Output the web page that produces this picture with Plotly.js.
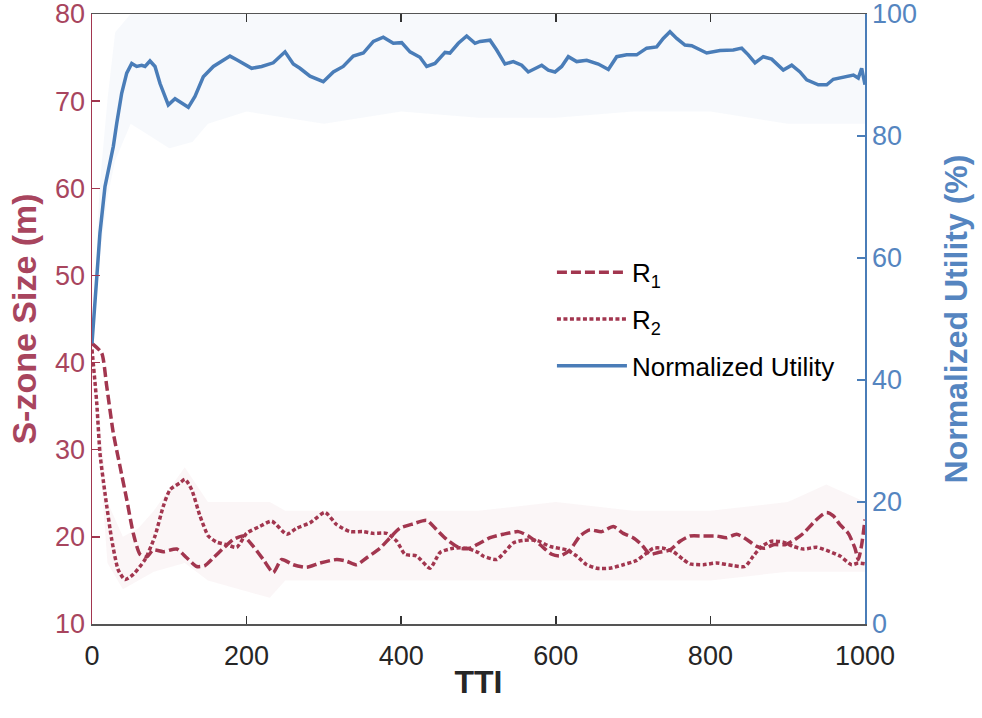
<!DOCTYPE html>
<html>
<head>
<meta charset="utf-8">
<script src="https://cdn.plot.ly/plotly-3.0.1.min.js"></script>
<style>html,body{margin:0;padding:0;background:#fff}#chart{width:982px;height:718px}</style>
</head>
<body>
<div id="chart"></div>
<script>
// ---- Data ----
const r1TTI = [0,12.5,19,27.6,36.2,44.9,53.4,62,70.8,79.3,92.2,109.6,122.5,135.4,146,157,170,183,195.7,208.7,221.6,234.5,245.4,260.4,277.7,295,316.6,329.5,342.4,355.4,372.6,385.5,398.4,415.7,433,446,458.9,476,489,502,515,532,551.5,564.4,579.6,594.7,605.4,618.4,631.3,644,659.4,674.4,687.3,700,711,721.9,732.6,747.7,760.7,773.6,790.8,808,821,834,847,860,870.6,881.4,896.5,909.4,920.2,933,944,950.5,959,967.7,978.4,987,991.3,995.7,1000];
const r1Val = [42.2,41.1,37.3,31.9,28.1,24.3,20.4,18.0,17.7,18.5,18.3,18.6,17.6,16.6,16.7,17.6,18.7,19.7,20.1,18.9,17.4,15.9,17.4,16.8,16.5,17.0,17.4,17.2,16.8,17.6,18.7,19.9,21.0,21.5,21.9,20.8,19.7,18.7,18.7,19.3,19.9,20.3,20.6,20.1,19.1,18.0,17.8,18.5,20.1,20.8,20.6,21.2,20.4,19.9,19.1,18.0,18.2,18.5,19.5,20.1,20.1,20.1,19.9,20.3,19.7,18.9,18.7,19.1,19.1,19.7,20.4,21.6,22.5,22.8,22.4,21.4,20.4,18.7,17.4,19.1,22.0];

const r2TTI = [0,6.1,10.3,16.8,25.5,34,42.7,53.4,68.6,81.5,92.2,100.9,113.8,120.3,129,139.7,150.5,161.3,174.3,187.2,200,217.3,232.5,251.9,264.8,282,301.4,316.6,333.8,351,364,381.2,394.2,405,420,437.3,450.2,467.4,484.7,499.7,506,523.5,534.3,545,558,575.3,592.5,614,627,640,653,670,687.3,704.6,715.4,726,739,752,765,773.6,790.8,808,829.6,844.7,855.5,866.4,879.3,894.3,907.2,920.2,937.5,954.7,967.7,982.8,991.3,1000];
const r2Val = [41.5,35.4,29.6,25.0,19.7,16.2,15.1,15.7,17.4,20.1,23.5,25.4,26.2,26.6,25.4,22.4,20.1,19.4,19.1,18.8,20.4,21.2,21.8,20.3,21.0,21.6,22.8,21.4,20.6,20.6,20.4,20.4,19.5,18.0,17.8,16.4,18.2,18.7,18.7,18.2,17.8,17.4,18.3,19.3,19.6,19.6,18.9,18.5,17.8,16.8,16.4,16.4,16.8,17.3,18.0,18.7,18.7,18.3,17.4,16.9,16.8,17.0,16.7,16.6,17.8,18.9,19.5,19.4,18.9,18.6,18.8,18.3,17.8,16.8,17.0,16.9];

const nuTTI = [0,3.9,10.3,16.8,23.3,27.6,32,38.4,44.9,51.4,57.8,64.3,68.6,75,81.5,88,98.7,107.4,116,124.6,133.2,144,157,169.9,178.5,187.2,195.7,206.6,219.5,234.5,249.7,260.4,269,282,299.2,312.2,325,338,351,364,376.8,389.8,400.6,411.4,424.3,433,443.7,456.7,463,473.9,484.7,495.5,502,514.9,523.5,534.3,545,555.9,564.4,575.3,581.8,590.3,599,607.6,616.2,627,640,655,668,678.8,691.7,704.6,717.6,730.5,739,747.7,756.4,767.1,775.8,795.2,812.4,829.6,840.5,849,857.7,868.4,879.3,894.3,905.2,915.9,924.6,939.6,950.5,959,972,985,991.3,995.7,1000];
const nuVal = [46,53.2,64.1,71.7,76.1,78.3,82.1,87.0,90.3,91.9,91.4,91.6,91.4,92.3,91.4,88.6,85.1,86.1,85.4,84.7,86.5,89.7,91.4,92.5,93.1,92.5,91.9,91.1,91.4,92.0,93.8,91.8,91.1,89.8,88.9,90.5,91.4,93.1,93.6,95.5,96.2,95.2,95.3,93.8,92.9,91.4,91.9,93.7,93.6,95.2,96.4,95.2,95.5,95.7,94.1,91.8,92.2,91.6,90.5,91.1,91.6,90.8,90.5,91.4,93.0,92.2,92.4,91.8,90.9,93.0,93.3,93.3,94.4,94.6,96.0,97.1,96.0,94.9,94.8,93.6,94.0,94.1,94.4,93.3,92.0,93.0,92.6,90.8,91.6,90.5,89.2,88.4,88.4,89.3,89.6,90.0,89.5,91.1,88.4];

// faint raw-sample envelopes
const nuBandTTI = [0,10,20,30,50,100,130,150,200,300,400,500,600,700,800,900,1000];
const nuBandLow = [46,60,70,76,82,78,79,82,84,82,84,83,83,84,84,82,82];
const nuBandHigh = [46,72,86,97,100,100,100,100,100,100,100,100,100,100,100,100,100];
const rBandTTI = [0,20,40,60,80,120,150,230,250,300,400,500,600,700,800,900,950,1000];
const rBandLow = [41,17,14,15,16,17,15,13,15,15,15,15,15,15,15,16,16,16];
const rBandHigh = [43,24,20,21,23,28,24,24,23,23,23,23,24,23,23,24,26,24];

// ---- Styles ----
const RED = '#A2364F', REDTXT = '#A8455E', BLUE = '#4A7DB8', BLUETXT = '#5585C0';
const FONT = 'Liberation Sans, Arial, Helvetica, sans-serif';

const traces = [
  {x: rBandTTI, y: rBandLow, type:'scatter', mode:'lines', line:{width:0}, showlegend:false, hoverinfo:'skip', yaxis:'y'},
  {x: rBandTTI, y: rBandHigh, type:'scatter', mode:'lines', line:{width:0}, fill:'tonexty', fillcolor:'rgba(162,54,79,0.045)', showlegend:false, hoverinfo:'skip', yaxis:'y'},
  {x: r1TTI, y: r1Val, type:'scatter', mode:'lines', name:'R<sub>1</sub>', legendgroup:'a', line:{color:RED, width:3.5, dash:'10px,4px', shape:'spline', smoothing:0.6}, yaxis:'y'},
  {x: r2TTI, y: r2Val, type:'scatter', mode:'lines', name:'R<sub>2</sub>', legendgroup:'b', line:{color:RED, width:3.5, dash:'4px,2.5px', shape:'spline', smoothing:0.6}, yaxis:'y'},
  {x: nuBandTTI, y: nuBandLow, type:'scatter', mode:'lines', line:{width:0}, showlegend:false, hoverinfo:'skip', yaxis:'y2'},
  {x: nuBandTTI, y: nuBandHigh, type:'scatter', mode:'lines', line:{width:0}, fill:'tonexty', fillcolor:'rgba(74,125,184,0.045)', showlegend:false, hoverinfo:'skip', yaxis:'y2'},
  {x: nuTTI, y: nuVal, type:'scatter', mode:'lines', name:'Normalized Utility', legendgroup:'c', line:{color:BLUE, width:3.5}, yaxis:'y2'}
];

const layout = {
  width: 982, height: 718,
  margin: {l:92, r:117, t:14, b:94},
  paper_bgcolor:'#fff', plot_bgcolor:'#fff',
  font: {family: FONT, size: 24, color:'#262626'},
  showlegend: true,
  legend: {x:0.595, y:0.615, xanchor:'left', yanchor:'top', bgcolor:'rgba(0,0,0,0)', font:{size:26, color:'#000'}, itemwidth:70, tracegroupgap:10, traceorder:'grouped'},
  xaxis: {
    range:[0,1000], dtick:200, tick0:0, showgrid:false, zeroline:false,
    showline:true, linecolor:'#555', linewidth:1.5, mirror:'ticks',
    ticks:'inside', ticklen:8, tickcolor:'#333', tickwidth:1.5,
    tickfont:{size:27, color:'#262626'}, ticklabeloverflow:'allow', ticklabelstandoff:7,
    title:{text:'<b>TTI</b>', font:{size:32, color:'#262626'}, standoff:0}
  },
  yaxis: {
    range:[10,80], dtick:10, tick0:10, showgrid:false, zeroline:false,
    showline:true, linecolor:RED, linewidth:1.5,
    ticks:'inside', ticklen:8, tickcolor:RED, tickwidth:1.5,
    tickfont:{size:27, color:REDTXT}, ticklabeloverflow:'allow',
    title:{text:'<b>S-zone Size (m)</b>', font:{size:34, color:REDTXT}, standoff:8}
  },
  yaxis2: {
    range:[0,100], dtick:20, tick0:0, overlaying:'y', side:'right', showgrid:false, zeroline:false,
    showline:true, linecolor:BLUE, linewidth:1.5,
    ticks:'inside', ticklen:8, tickcolor:BLUE, tickwidth:1.5,
    tickfont:{size:27, color:BLUETXT}, ticklabeloverflow:'allow',
    title:{text:'<b>Normalized Utility (%)</b>', font:{size:32, color:BLUETXT}, standoff:28}
  }
};

Plotly.newPlot('chart', traces, layout, {displayModeBar:false, staticPlot:true});
</script>
</body>
</html>
